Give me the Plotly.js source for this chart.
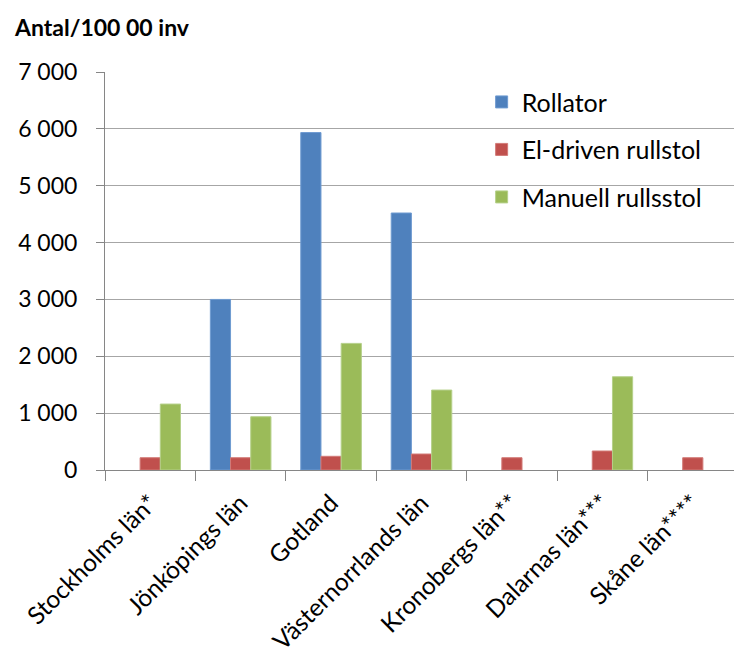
<!DOCTYPE html>
<html>
<head>
<meta charset="utf-8">
<script src="https://cdn.plot.ly/plotly-3.0.1.min.js"></script>
<style>
html,body{margin:0;padding:0;overflow:hidden;background:#fff;}
#chart{width:740px;height:655px;}
</style>
</head>
<body>
<div id="chart"></div>
<script>
const categories = ["Stockholms län*", "Jönköpings län", "Gotland", "Västernorrlands län", "Kronobergs län**", "Dalarnas län***", "Skåne län****"];
const rollator = [null, 3000, 5935, 4520, null, null, null];
const elRullstol = [216, 216, 241, 281, 216, 334, 216];
const manuellRullstol = [1160, 937, 2227, 1406, null, 1640, null];
const seriesNames = ["Rollator", "El-driven rullstol", "Manuell rullsstol"];
const yTitle = "Antal/100 00 inv";

const font = "Lato, 'Open Sans', sans-serif";
const colors = ["#4F81BD", "#C0504D", "#9BBB59"];
const lineColors = ["#6F9BD1", "#D27A77", "#B5D08A"];

const traces = [rollator, elRullstol, manuellRullstol].map((vals, i) => ({
  type: "bar",
  x: categories,
  y: vals,
  name: seriesNames[i],
  legendgroup: "g" + i,
  marker: {color: colors[i], line: {color: lineColors[i], width: 1}},
  hoverinfo: "x+y+name"
}));

const layout = {
  width: 740,
  height: 655,
  margin: {l: 105, r: 2, t: 72, b: 185},
  paper_bgcolor: "#fff",
  plot_bgcolor: "#fff",
  separators: ", ",
  font: {family: font, size: 23, color: "#000"},
  barmode: "group",
  bargap: 0.33,
  bargroupgap: 0,
  showlegend: true,
  legend: {
    x: 0.595, y: 0.982, xanchor: "left", yanchor: "top",
    bgcolor: "rgba(0,0,0,0)",
    font: {family: font, size: 25, color: "#000"},
    tracegroupgap: 12,
    itemwidth: 30
  },
  xaxis: {
    type: "category",
    tickangle: -45,
    tickson: "boundaries",
    ticks: "outside",
    ticklen: 10,
    tickcolor: "#868686",
    ticklabelstandoff: 8,
    showline: true,
    linecolor: "#868686",
    linewidth: 1,
    showgrid: false,
    tickfont: {family: font, size: 24.5, color: "#000"},
    fixedrange: true
  },
  yaxis: {
    range: [0, 7000],
    dtick: 1000,
    tickformat: ",",
    ticks: "outside",
    ticklen: 8,
    tickcolor: "#868686",
    ticklabelstandoff: 14,
    showline: true,
    linecolor: "#868686",
    linewidth: 1,
    showgrid: true,
    gridcolor: "#a6a6a6",
    gridwidth: 1,
    zeroline: false,
    tickfont: {family: font, size: 23, color: "#000"},
    fixedrange: true
  },
  annotations: [{
    text: "<b>" + yTitle + "</b>",
    xref: "paper", yref: "paper",
    x: -0.147, y: 1.113,
    xanchor: "left", yanchor: "middle",
    showarrow: false,
    font: {family: font, size: 23, color: "#000"}
  }]
};

Plotly.newPlot("chart", traces, layout, {displayModeBar: false});
</script>
</body>
</html>
